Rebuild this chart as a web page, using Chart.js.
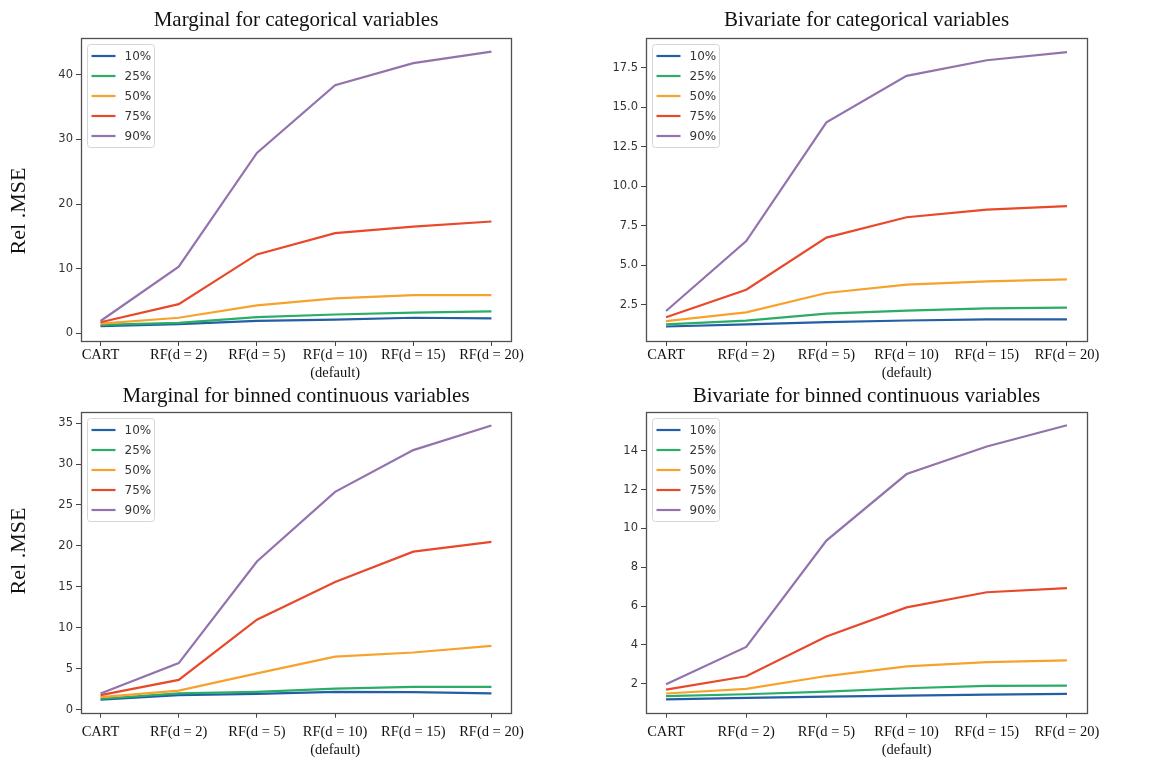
<!DOCTYPE html>
<html><head><meta charset="utf-8">
<script src="https://cdn.jsdelivr.net/npm/chart.js@4.4.1/dist/chart.umd.min.js"></script>
<style>
html,body{margin:0;padding:0;background:#fff;}
#wrap{position:relative;width:1166px;height:759px;overflow:hidden;background:#fff;}
canvas{position:absolute;}
.ylab{position:absolute;font-family:'Liberation Serif','Times New Roman',serif;font-size:22px;color:#111;transform:translate(-50%,-50%) rotate(-90deg);white-space:nowrap;line-height:1;}
</style></head><body>
<div id="wrap">
<canvas id="c1" width="583" height="380" style="left:0;top:0"></canvas>
<canvas id="c2" width="583" height="380" style="left:583px;top:0"></canvas>
<canvas id="c3" width="583" height="379" style="left:0;top:380px"></canvas>
<canvas id="c4" width="583" height="379" style="left:583px;top:380px"></canvas>
<div class="ylab" style="left:18px;top:211px">Rel .MSE</div>
<div class="ylab" style="left:18px;top:551px">Rel .MSE</div>
</div>
<script>
// ---- data ----
const categories = ['CART', 'RF(d = 2)', 'RF(d = 5)', ['RF(d = 10)', '(default)'], 'RF(d = 15)', 'RF(d = 20)'];
const seriesNames = ['10%', '25%', '50%', '75%', '90%'];
const seriesColors = ['#245ea4', '#2aad66', '#f7a22c', '#e9492b', '#9273ae'];

const titles = ['Marginal for categorical variables', 'Bivariate for categorical variables',
                'Marginal for binned continuous variables', 'Bivariate for binned continuous variables'];

// Marginal, categorical
const margCat10 = [1.1, 1.4, 1.9, 2.1, 2.4, 2.3];
const margCat25 = [1.3, 1.6, 2.5, 2.9, 3.2, 3.4];
const margCat50 = [1.5, 2.4, 4.3, 5.4, 5.9, 5.9];
const margCat75 = [1.7, 4.5, 12.2, 15.5, 16.5, 17.3];
const margCat90 = [1.9, 10.3, 27.9, 38.4, 41.8, 43.6];
// Bivariate, categorical
const biCat10 = [1.12, 1.25, 1.40, 1.50, 1.57, 1.57];
const biCat25 = [1.25, 1.49, 1.93, 2.12, 2.27, 2.31];
const biCat50 = [1.46, 2.01, 3.24, 3.77, 3.98, 4.10];
const biCat75 = [1.71, 3.45, 6.75, 8.04, 8.52, 8.75];
const biCat90 = [2.10, 6.53, 14.06, 17.0, 17.99, 18.5];
// Marginal, binned continuous
const margBin10 = [1.25, 1.8, 1.95, 2.2, 2.15, 2.0];
const margBin25 = [1.35, 2.0, 2.2, 2.6, 2.8, 2.8];
const margBin50 = [1.55, 2.35, 4.45, 6.5, 7.0, 7.8];
const margBin75 = [1.8, 3.65, 11.0, 15.6, 19.3, 20.5];
const margBin90 = [2.0, 5.7, 18.1, 26.6, 31.7, 34.7];
// Bivariate, binned continuous
const biBin10 = [1.19, 1.26, 1.33, 1.38, 1.43, 1.47];
const biBin25 = [1.35, 1.45, 1.59, 1.76, 1.88, 1.90];
const biBin50 = [1.49, 1.73, 2.39, 2.89, 3.11, 3.20];
const biBin75 = [1.69, 2.38, 4.43, 5.93, 6.71, 6.92];
const biBin90 = [1.97, 3.89, 9.37, 12.8, 14.22, 15.32];

// tick labels
const yTicks1 = [0, 10, 20, 30, 40];
const yTicks2 = [2.5, 5.0, 7.5, 10.0, 12.5, 15.0, 17.5];
const yTicks3 = [0, 5, 10, 15, 20, 25, 30, 35];
const yTicks4 = [2, 4, 6, 8, 10, 12, 14];

// ---- plugins ----
const framePlugin = {
  id: 'frame',
  afterDraw(chart) {
    const a = chart.chartArea, ctx = chart.ctx;
    ctx.save();
    ctx.strokeStyle = '#505050';
    ctx.lineWidth = 1.3;
    ctx.strokeRect(Math.round(a.left) + 0.5, Math.round(a.top) + 0.5,
                   Math.round(a.right - a.left), Math.round(a.bottom - a.top));
    ctx.restore();
  }
};
const legendPlugin = {
  id: 'boxLegend',
  afterDraw(chart) {
    const a = chart.chartArea, ctx = chart.ctx;
    const x = Math.round(a.left) + 6.5, y = Math.round(a.top) + 6.5, w = 67, h = 103, r = 3;
    ctx.save();
    ctx.beginPath();
    ctx.moveTo(x + r, y);
    ctx.arcTo(x + w, y, x + w, y + h, r);
    ctx.arcTo(x + w, y + h, x, y + h, r);
    ctx.arcTo(x, y + h, x, y, r);
    ctx.arcTo(x, y, x + w, y, r);
    ctx.closePath();
    ctx.fillStyle = 'rgba(255,255,255,0.85)';
    ctx.fill();
    ctx.strokeStyle = '#d6d6d6';
    ctx.lineWidth = 1;
    ctx.stroke();
    ctx.font = '12px "DejaVu Sans"';
    ctx.textBaseline = 'middle';
    ctx.textAlign = 'left';
    chart.data.datasets.forEach((ds, i) => {
      const cy = y + 11.5 + i * 20;
      ctx.strokeStyle = ds.borderColor;
      ctx.lineWidth = 2.2;
      ctx.beginPath();
      ctx.moveTo(x + 4, cy);
      ctx.lineTo(x + 28, cy);
      ctx.stroke();
      ctx.fillStyle = '#333';
      ctx.fillText(ds.label, x + 37, cy + 0.5);
    });
    ctx.restore();
  }
};

function makeChart(id, title, series, yTicks, yMin, yMax, geo) {
  const datasets = series.map((vals, i) => ({
    label: seriesNames[i],
    data: vals.map((v, k) => ({ x: k, y: v })),
    borderColor: seriesColors[i],
    backgroundColor: seriesColors[i],
    borderWidth: 2.2,
    pointRadius: 0,
    tension: 0,
    order: series.length - i
  }));
  return new Chart(document.getElementById(id), {
    type: 'line',
    data: { datasets },
    options: {
      responsive: false,
      animation: false,
      events: [],
      layout: { padding: { left: 0, top: 0, right: geo.padRight, bottom: 0 } },
      plugins: {
        legend: { display: false },
        tooltip: { enabled: false },
        title: {
          display: true,
          text: title,
          fullSize: false,
          color: '#111',
          font: { family: "'Liberation Serif', 'Times New Roman', serif", size: 21, weight: 'normal', lineHeight: 1.2 },
          padding: { top: geo.titleTop, bottom: geo.titleBottom }
        }
      },
      scales: {
        x: {
          type: 'linear',
          min: -0.25, max: 5.25,
          afterBuildTicks: s => { s.ticks = categories.map((c, k) => ({ value: k })); },
          afterFit: s => { s.height = geo.xHeight; s.paddingLeft = 0; s.paddingRight = 0; },
          border: { display: false },
          grid: { drawOnChartArea: false, drawTicks: true, tickLength: 5, tickColor: '#444', tickWidth: 1 },
          ticks: {
            autoSkip: false, maxRotation: 0, minRotation: 0,
            padding: geo.xPad,
            color: '#111',
            font: { family: "'Liberation Serif', 'Times New Roman', serif", size: 14.5, lineHeight: 1.26 },
            callback: (v, idx) => categories[idx]
          }
        },
        y: {
          type: 'linear',
          min: yMin, max: yMax,
          afterBuildTicks: s => { s.ticks = yTicks.map(v => ({ value: v })); },
          afterFit: s => { s.width = geo.yWidth; s.paddingTop = 0; s.paddingBottom = 0; },
          border: { display: false },
          grid: { drawOnChartArea: false, drawTicks: true, tickLength: 5, tickColor: '#444', tickWidth: 1 },
          ticks: {
            padding: 3,
            color: '#333',
            font: { family: "'DejaVu Sans', sans-serif", size: 11.5 },
            callback: v => (geo.decimals ? Number(v).toFixed(1) : String(v))
          }
        }
      }
    },
    plugins: [framePlugin, legendPlugin]
  });
}

makeChart('c1', titles[0], [margCat10, margCat25, margCat50, margCat75, margCat90], yTicks1, -1.2, 45.7,
  { padRight: 72, yWidth: 81, xHeight: 39, xPad: 0, titleTop: 8, titleBottom: 4.8, decimals: false });
makeChart('c2', titles[1], [biCat10, biCat25, biCat50, biCat75, biCat90], yTicks2, 0.2, 19.4,
  { padRight: 79, yWidth: 63, xHeight: 39, xPad: 0, titleTop: 8, titleBottom: 4.8, decimals: true });
makeChart('c3', titles[2], [margBin10, margBin25, margBin50, margBin75, margBin90], yTicks3, -0.35, 36.35,
  { padRight: 72, yWidth: 81, xHeight: 46.3, xPad: 5, titleTop: 3.4, titleBottom: 3.4, decimals: false });
makeChart('c4', titles[3], [biBin10, biBin25, biBin50, biBin75, biBin90], yTicks4, 0.5, 16.0,
  { padRight: 79, yWidth: 63, xHeight: 46.3, xPad: 5, titleTop: 3.4, titleBottom: 3.4, decimals: false });
</script>
</body></html>
